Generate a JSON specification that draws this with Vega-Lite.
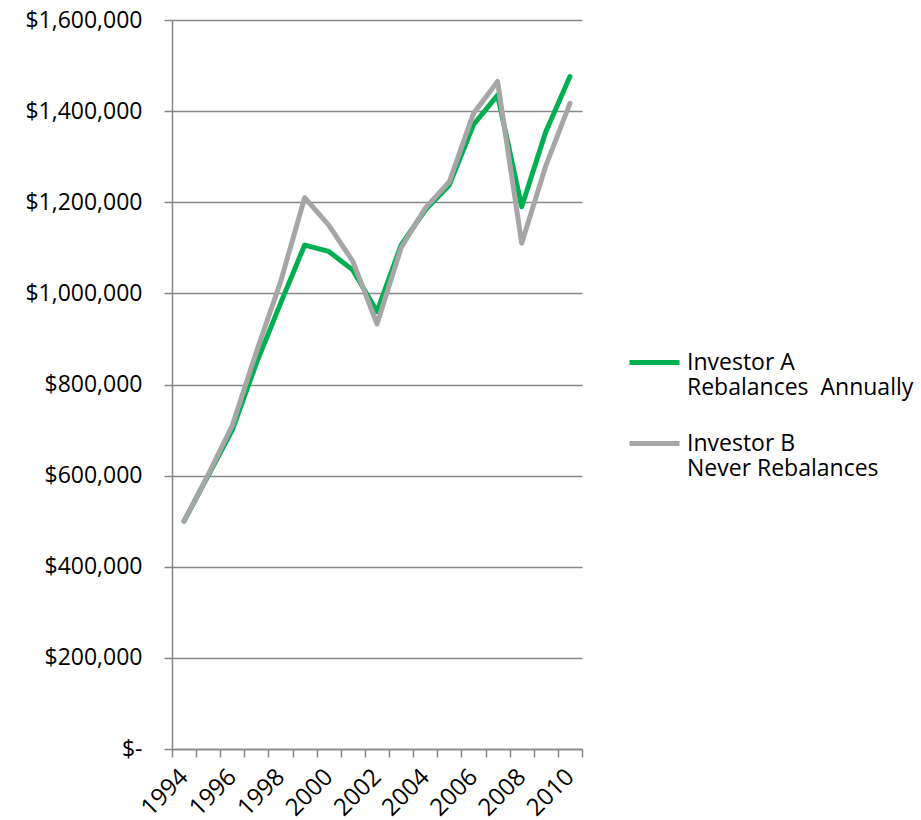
{
  "$schema": "https://vega.github.io/schema/vega-lite/v6.json",
  "width": 410,
  "height": 729,
  "autosize": {"type": "none"},
  "padding": {"left": 172, "top": 20, "right": 339, "bottom": 71},
  "background": "white",
  "config": {"view": {"stroke": null}, "font": "Open Sans"},
  "data": {
    "values": [
      {"year": 1994, "series": "Investor A", "value": 500000},
      {"year": 1995, "series": "Investor A", "value": 600000},
      {"year": 1996, "series": "Investor A", "value": 700000},
      {"year": 1997, "series": "Investor A", "value": 847000},
      {"year": 1998, "series": "Investor A", "value": 978000},
      {"year": 1999, "series": "Investor A", "value": 1106000},
      {"year": 2000, "series": "Investor A", "value": 1092000},
      {"year": 2001, "series": "Investor A", "value": 1051000},
      {"year": 2002, "series": "Investor A", "value": 960000},
      {"year": 2003, "series": "Investor A", "value": 1106000},
      {"year": 2004, "series": "Investor A", "value": 1183000},
      {"year": 2005, "series": "Investor A", "value": 1238000},
      {"year": 2006, "series": "Investor A", "value": 1370000},
      {"year": 2007, "series": "Investor A", "value": 1435000},
      {"year": 2008, "series": "Investor A", "value": 1190000},
      {"year": 2009, "series": "Investor A", "value": 1355000},
      {"year": 2010, "series": "Investor A", "value": 1476000},
      {"year": 1994, "series": "Investor B", "value": 500000},
      {"year": 1995, "series": "Investor B", "value": 602000},
      {"year": 1996, "series": "Investor B", "value": 710000},
      {"year": 1997, "series": "Investor B", "value": 872000},
      {"year": 1998, "series": "Investor B", "value": 1025000},
      {"year": 1999, "series": "Investor B", "value": 1210000},
      {"year": 2000, "series": "Investor B", "value": 1150000},
      {"year": 2001, "series": "Investor B", "value": 1070000},
      {"year": 2002, "series": "Investor B", "value": 933000},
      {"year": 2003, "series": "Investor B", "value": 1100000},
      {"year": 2004, "series": "Investor B", "value": 1187000},
      {"year": 2005, "series": "Investor B", "value": 1245000},
      {"year": 2006, "series": "Investor B", "value": 1395000},
      {"year": 2007, "series": "Investor B", "value": 1465000},
      {"year": 2008, "series": "Investor B", "value": 1110000},
      {"year": 2009, "series": "Investor B", "value": 1280000},
      {"year": 2010, "series": "Investor B", "value": 1417000}
    ]
  },
  "mark": {"type": "line", "strokeWidth": 5, "strokeCap": "round", "strokeJoin": "round"},
  "encoding": {
    "x": {
      "field": "year",
      "type": "ordinal",
      "scale": {"type": "band", "paddingInner": 0, "paddingOuter": 0},
      "axis": {
        "title": null,
        "labelAngle": -45,
        "labelAlign": "right",
        "labelBaseline": "middle",
        "labelExpr": "datum.value % 2 == 0 ? datum.label : ''",
        "labelOverlap": false,
        "labelFontSize": 24,
        "labelColor": "black",
        "labelPadding": 16,
        "tickBand": "extent",
        "grid": false,
        "domainColor": "#868686",
        "domainWidth": 1.5,
        "tickColor": "#868686",
        "tickWidth": 1.5,
        "tickSize": 8
      }
    },
    "y": {
      "field": "value",
      "type": "quantitative",
      "scale": {"domain": [0, 1600000], "nice": false},
      "axis": {
        "title": null,
        "values": [0, 200000, 400000, 600000, 800000, 1000000, 1200000, 1400000, 1600000],
        "labelExpr": "datum.value == 0 ? '$-\u00a0\u00a0\u00a0' : '$' + format(datum.value, ',')",
        "labelFontSize": 23,
        "labelColor": "black",
        "labelPadding": 22,
        "grid": true,
        "gridColor": "#868686",
        "gridWidth": 1.5,
        "domainColor": "#868686",
        "domainWidth": 1.5,
        "tickColor": "#868686",
        "tickWidth": 1.5,
        "tickSize": 8
      }
    },
    "color": {
      "field": "series",
      "type": "nominal",
      "scale": {"domain": ["Investor A", "Investor B"], "range": ["#00B050", "#A6A6A6"]},
      "legend": {
        "title": null,
        "orient": "none",
        "legendX": 455,
        "legendY": 315,
        "padding": 0,
        "symbolType": "stroke",
        "symbolSize": 2500,
        "symbolStrokeWidth": 5,
        "labelFontSize": 23,
        "labelColor": "black",
        "labelLimit": 0,
        "labelOffset": 5,
        "labelBaseline": "middle",
        "rowPadding": 16,
        "labelExpr": "datum.label == 'Investor A' ? ['Investor A', 'Rebalances\u00a0\u00a0Annually'] : ['Investor B', 'Never Rebalances']",
        "encoding": {
          "labels": {"update": {"lineHeight": {"value": 27}}},
          "symbols": {"update": {"strokeCap": {"value": "round"}}}
        }
      }
    }
  }
}
